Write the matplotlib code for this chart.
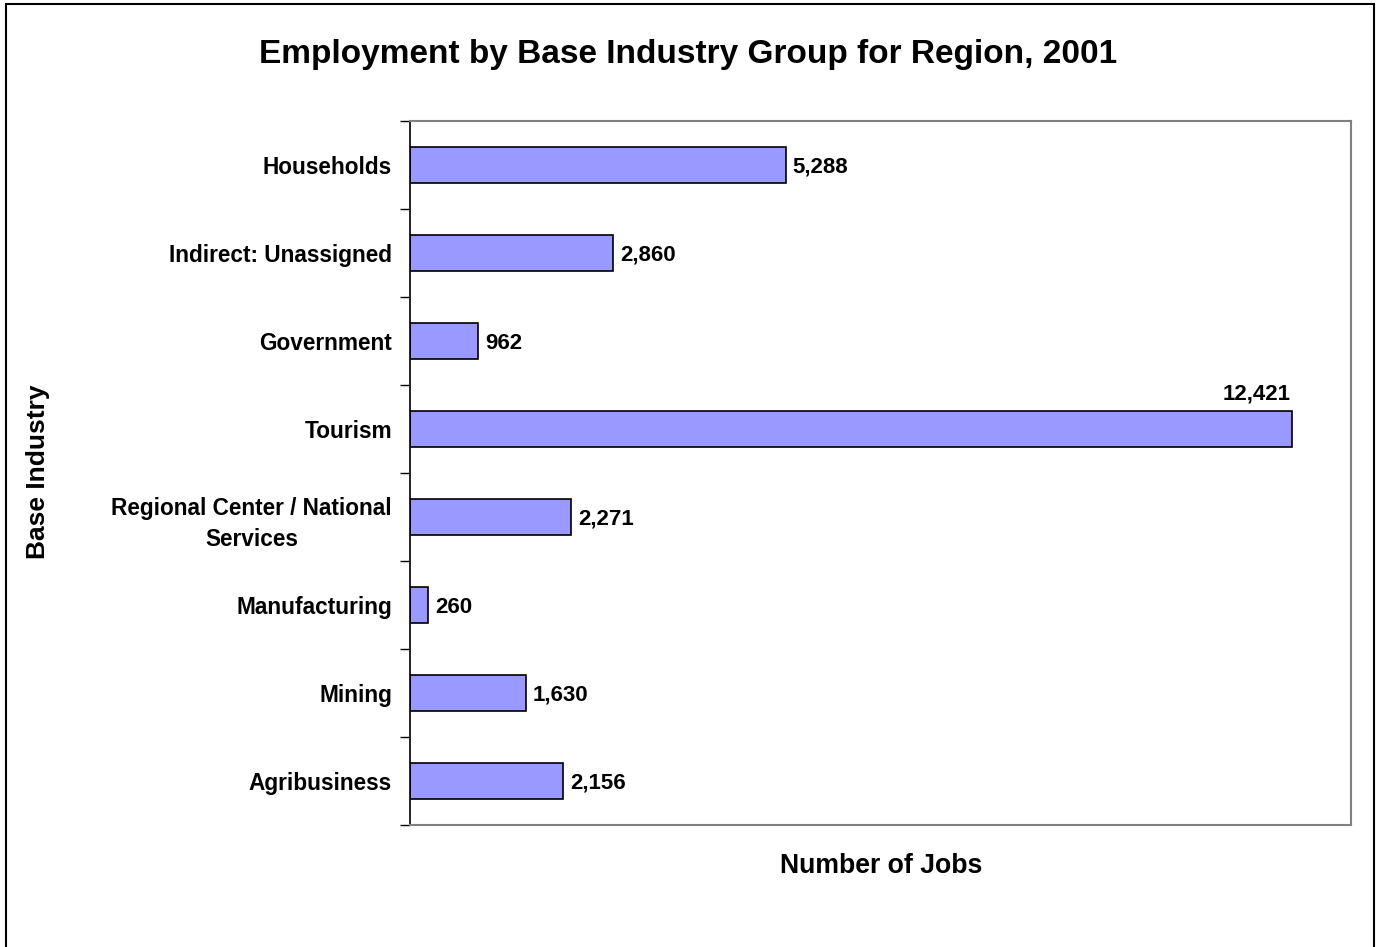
import matplotlib.pyplot as plt
from matplotlib.patches import Rectangle

categories = ["Agribusiness", "Mining", "Manufacturing",
              "Regional Center / National\nServices", "Tourism",
              "Government", "Indirect: Unassigned", "Households"]
jobs = [2156, 1630, 260, 2271, 12421, 962, 2860, 5288]

plt.rcParams["font.family"] = ["Liberation Sans", "DejaVu Sans"]
plt.rcParams["font.weight"] = "bold"

W, H = 1377, 947
fig = plt.figure(figsize=(W / 100, H / 100), dpi=100)
ax = fig.add_axes([410 / W, 1 - 825 / H, (1351 - 410) / W, (825 - 121) / H])

pos = range(len(categories))
ax.barh(pos, jobs, height=0.41, color="#9999ff", edgecolor="black", linewidth=1.2)

ax.set_xlim(0, 13250)
ax.set_ylim(-0.5, len(categories) - 0.5)

for y, v in zip(pos, jobs):
    label = f"{v:,}"
    if v > 10000:
        ax.annotate(label, (v, y + 0.2), xytext=(-1, 5), textcoords="offset points",
                    ha="right", va="bottom", fontsize=16, fontweight="bold")
    else:
        ax.annotate(label, (v, y), xytext=(5, 0), textcoords="offset points",
                    ha="left", va="center_baseline", fontsize=16, fontweight="bold")

# category labels between the tick marks, ticks at the boundaries
ax.set_yticks(list(pos))
ax.set_yticklabels(categories, fontsize=16.3, fontweight="bold",
                   ha="right", multialignment="center", linespacing=1.45)
ax.tick_params(axis="y", which="major", length=0, pad=13)
ax.set_yticks([i - 0.5 for i in range(len(categories) + 1)], minor=True)
ax.tick_params(axis="y", which="minor", length=7, width=1, direction="out")
ax.set_xticks([])

for side in ("top", "right", "bottom"):
    ax.spines[side].set_color("#808080")
    ax.spines[side].set_linewidth(1.5)
ax.spines["left"].set_color("black")
ax.spines["left"].set_linewidth(1.2)

fig.text(881 / W, 1 - 866 / H, "Number of Jobs", ha="center", va="center",
         fontsize=19.2, fontweight="bold")
fig.text(38 / W, 1 - 472 / H, "Base Industry", ha="center", va="center",
         rotation=90, fontsize=19, fontweight="bold")
fig.text(688 / W, 1 - 55 / H, "Employment by Base Industry Group for Region, 2001",
         ha="center", va="center", fontsize=24, fontweight="bold")

fig.patches.append(Rectangle((6 / W, -0.02), (1374 - 6) / W, 1.02 - 4 / H,
                             transform=fig.transFigure, fill=False,
                             edgecolor="black", linewidth=1.5))

fig.savefig("out.png", dpi=100)
